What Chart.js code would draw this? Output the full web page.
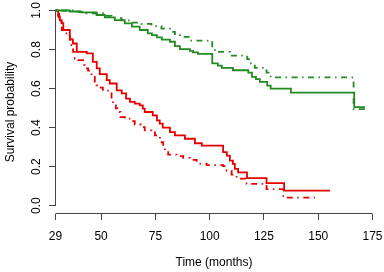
<!DOCTYPE html>
<html><head><meta charset="utf-8">
<script src="https://cdn.jsdelivr.net/npm/chart.js@4.4.1/dist/chart.umd.min.js"></script>
<style>html,body{margin:0;padding:0;background:#fff;overflow:hidden;}</style>
</head><body>
<canvas id="c" width="384" height="272" style="width:384px;height:272px;display:block"></canvas>
<script>
const xTicks = [29, 50, 75, 100, 125, 150, 175];
const yTicks = [0, 0.2, 0.4, 0.6, 0.8, 1.0];

const greenSolidTime = [29,35.6,40.2,47.9,51.7,56.3,60.9,64.2,67.8,71.5,73.4,75.7,78,81.7,84,86.3,90.9,92.3,94.6,101.2,103.8,105.6,110.7,117.8,119.5,121.3,123.1,126.5,128.1,137.4,166.6,171.5];
const greenSolidSurv = [1,0.995,0.99,0.977,0.965,0.951,0.934,0.917,0.9,0.883,0.874,0.862,0.851,0.84,0.818,0.802,0.793,0.785,0.778,0.729,0.718,0.706,0.694,0.682,0.66,0.648,0.634,0.615,0.6,0.579,0.505,0.505];

const greenDashTime = [29,38.7,43.3,51.7,54.8,59.4,63.2,68.6,73.2,77.8,81.7,84,86.3,90.9,101.2,102.4,109.3,117.3,119,120.8,126.2,128.1,166.3,171.5];
const greenDashSurv = [1,0.994,0.986,0.972,0.961,0.949,0.938,0.931,0.92,0.907,0.891,0.874,0.865,0.846,0.806,0.788,0.769,0.751,0.729,0.706,0.682,0.657,0.495,0.495];

const redSolidTime = [29,30.2,31,31.8,32.6,35.6,37,38.8,43.4,46.2,48,49.4,52.6,54,57.2,59.5,61.5,63.3,65.5,67.8,69.2,70.1,73.8,75.7,77,78.4,81.7,84,88.6,93.2,96.4,106.2,107.9,109.3,110.7,111.6,113.1,117.2,126.2,134.3,155.4];
const redSolidSurv = [1,0.97,0.95,0.935,0.9,0.852,0.831,0.788,0.78,0.737,0.703,0.674,0.643,0.626,0.591,0.575,0.549,0.532,0.523,0.514,0.497,0.48,0.463,0.437,0.42,0.4,0.377,0.36,0.343,0.32,0.308,0.274,0.257,0.231,0.214,0.189,0.171,0.141,0.116,0.077,0.077];

const redDashTime = [29,30.7,31.9,33.3,35.6,35.8,37.1,37.9,39.4,41.7,42.5,44,45.6,47.1,47.9,49.4,50.8,54,54.8,55.5,56.8,58.6,58.9,61,61.9,64,65.5,68.3,70.1,73.2,74.8,77.1,78.6,79.4,80.9,84.8,87.8,90.9,94,98.6,106.2,107.8,110.1,112.4,117,126.2,133.9,148.5];
const redDashSurv = [1,0.942,0.9,0.883,0.857,0.823,0.788,0.754,0.746,0.72,0.703,0.692,0.66,0.634,0.617,0.605,0.589,0.584,0.549,0.514,0.499,0.48,0.454,0.451,0.446,0.433,0.416,0.403,0.386,0.382,0.36,0.325,0.3,0.274,0.262,0.254,0.245,0.235,0.216,0.208,0.203,0.18,0.159,0.139,0.112,0.085,0.041,0.041];

const GREEN = '#228B22';
const RED = '#E60000';
const AXIS = '#444444';
const FONT = {family: '"Liberation Sans", Arial, Helvetica, sans-serif', size: 12};

function pts(t, s) { return t.map((v, i) => ({x: v, y: s[i]})); }
function ds(label, t, s, color, dashed) {
  return {
    label, data: pts(t, s), borderColor: color, backgroundColor: color,
    borderWidth: 1.8, pointRadius: 0, stepped: true, fill: false, clip: false,
    borderDash: dashed ? [1.5, 4.5, 6, 4.5] : [], borderCapStyle: 'butt'
  };
}

const rAxes = {
  id: 'rAxes',
  afterDraw(chart) {
    const {ctx, chartArea, scales: {x, y}} = chart;
    ctx.save();
    ctx.strokeStyle = AXIS; ctx.lineWidth = 1;
    ctx.beginPath();
    ctx.moveTo(x.getPixelForValue(xTicks[0]), chartArea.bottom);
    ctx.lineTo(x.getPixelForValue(xTicks[xTicks.length - 1]), chartArea.bottom);
    ctx.moveTo(chartArea.left, y.getPixelForValue(yTicks[0]));
    ctx.lineTo(chartArea.left, y.getPixelForValue(yTicks[yTicks.length - 1]));
    ctx.stroke();
    ctx.restore();
  }
};

new Chart(document.getElementById('c'), {
  type: 'line',
  data: {
    datasets: [
      ds('Group 1', greenSolidTime, greenSolidSurv, GREEN, false),
      ds('Group 1 (dash-dot)', greenDashTime, greenDashSurv, GREEN, true),
      ds('Group 2', redSolidTime, redSolidSurv, RED, false),
      ds('Group 2 (dash-dot)', redDashTime, redDashSurv, RED, true)
    ]
  },
  options: {
    responsive: false, animation: false, devicePixelRatio: 1,
    layout: {padding: {left: 0, right: 11.5, top: 10.5, bottom: 0}},
    plugins: {legend: {display: false}, tooltip: {enabled: false}},
    scales: {
      x: {
        type: 'linear', min: 29, max: 175,
        afterBuildTicks: s => { s.ticks = xTicks.map(v => ({value: v})); },
        afterFit: s => { s.height = 58.5; s.paddingLeft = 0; s.paddingRight = 0; },
        ticks: {font: FONT, color: '#000', padding: 9, maxRotation: 0, autoSkip: false},
        grid: {display: true, drawOnChartArea: false, drawTicks: true, tickLength: 6.5, color: AXIS, lineWidth: 1},
        border: {display: false},
        title: {display: true, text: 'Time (months)', font: FONT, color: '#000', padding: {top: 0, bottom: 2}}
      },
      y: {
        type: 'linear', min: -0.04, max: 1.0,
        afterBuildTicks: s => { s.ticks = yTicks.map(v => ({value: v})); },
        afterFit: s => { s.width = 55.5; s.paddingTop = 0; s.paddingBottom = 0; },
        ticks: {font: FONT, color: '#000', padding: 3.5, minRotation: 90, maxRotation: 90, crossAlign: 'center', autoSkip: false,
                callback: v => Number(v).toFixed(1)},
        grid: {display: true, drawOnChartArea: false, drawTicks: true, tickLength: 6.5, color: AXIS, lineWidth: 1},
        border: {display: false},
        title: {display: true, text: 'Survival probability', font: FONT, color: '#000', padding: {top: 3, bottom: 0}}
      }
    }
  },
  plugins: [rAxes]
});
</script>
</body></html>
